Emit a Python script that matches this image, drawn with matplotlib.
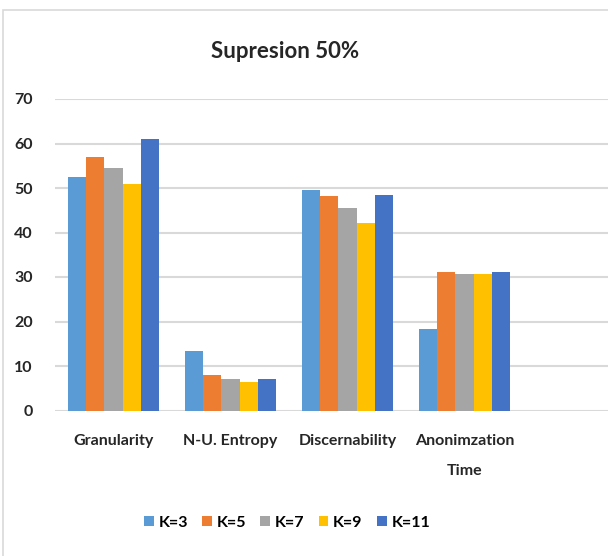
import numpy as np
import matplotlib
matplotlib.use("Agg")
import matplotlib.pyplot as plt
from matplotlib.patches import Rectangle

categories = ["Granularity", "N-U. Entropy", "Discernability", "Anonimzation\nTime", ""]
series = ["K=3", "K=5", "K=7", "K=9", "K=11"]
k3 = [52.5, 13.4, 49.5, 18.4]
k5 = [56.9, 8.0, 48.1, 31.2]
k7 = [54.4, 7.0, 45.6, 30.7]
k9 = [51.0, 6.5, 42.1, 30.7]
k11 = [60.9, 7.0, 48.5, 31.2]
colors = ["#5B9BD5", "#ED7D31", "#A5A5A5", "#FFC000", "#4472C4"]
yticks = [0, 10, 20, 30, 40, 50, 60, 70]

plt.rcParams["font.family"] = ["Lato", "DejaVu Sans"]
text_color = "#262626"
fs = 11.5

W, H = 608, 556
fig = plt.figure(figsize=(W / 100, H / 100), dpi=100)

# chart border (cropped on right and bottom)
fig.patches.append(Rectangle((3 / W, -0.1), 1.2, 1 - 10 / H + 0.1,
                             transform=fig.transFigure, fill=False,
                             edgecolor="#d9d9d9", linewidth=1.2))

# axes extends beyond the right edge: the reference is cropped there
ax = fig.add_axes([55 / W, 1 - 410.5 / H, 585 / W, 311.5 / H])

values = [k3, k5, k7, k9, k11]
n = len(series)
group = 0.77
bw = group / n
x = np.arange(len(categories) - 1)
for i, (name, vals) in enumerate(zip(series, values)):
    ax.bar(x - group / 2 + bw * (i + 0.5), vals, width=bw, color=colors[i],
           label=name, zorder=3)

ax.set_xlim(-0.5, len(categories) - 0.5)
ax.set_ylim(0, 70)
ax.set_yticks(yticks)
ax.set_xticks(np.arange(len(categories)))
ax.set_xticklabels(categories, fontsize=fs, color=text_color,
                   fontweight="bold", linespacing=2.4)
ax.tick_params(axis="x", length=0, pad=17)
ax.tick_params(axis="y", length=0, pad=16, labelsize=fs, labelcolor=text_color)
for lab in ax.get_yticklabels():
    lab.set_fontweight("bold")
ax.yaxis.grid(True, color="#d9d9d9", linewidth=1.5, zorder=0)
for s in ax.spines.values():
    s.set_visible(False)

fig.text(285 / W, 1 - 52 / H, "Supresion 50%", ha="center", va="center",
         fontsize=16, fontweight="bold", color=text_color)

fig.legend(loc="center", bbox_to_anchor=(287 / W, 1 - 523 / H), ncol=5,
           frameon=False, handlelength=0.6, handleheight=0.6,
           handletextpad=0.3, columnspacing=0.9,
           prop={"weight": "bold", "size": fs})

fig.savefig("out.png", dpi=100)
